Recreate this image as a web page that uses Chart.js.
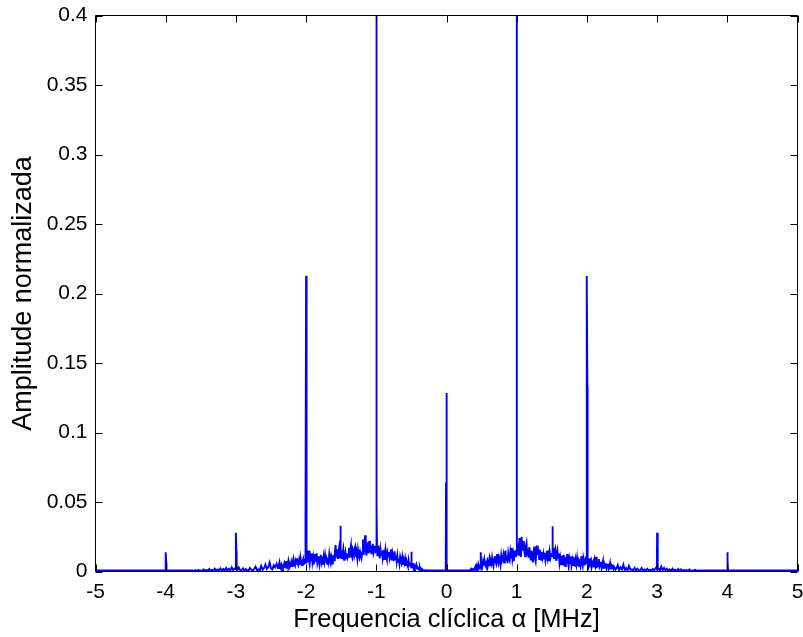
<!DOCTYPE html>
<html>
<head>
<meta charset="utf-8">
<script src="https://cdn.jsdelivr.net/npm/chart.js@4.4.1/dist/chart.umd.min.js"></script>
<style>
  html, body { margin: 0; padding: 0; background: #ffffff; }
  #wrap { width: 803px; height: 637px; }
</style>
</head>
<body>
<div id="wrap"><canvas id="scf" width="803" height="637"></canvas></div>
<script>
// Cyclic spectrum magnitude (normalized) versus cyclic frequency alpha in MHz.

// Axis ticks
const xTickValues = [-5, -4, -3, -2, -1, 0, 1, 2, 3, 4, 5];
const yTickValues = [0, 0.05, 0.1, 0.15, 0.2, 0.25, 0.3, 0.35, 0.4];
const yTickLabels = ['0', '0.05', '0.1', '0.15', '0.2', '0.25', '0.3', '0.35', '0.4'];

// Noise floor of the estimate, in units of 1e-3 (normalized amplitude).
// Outer bands sampled every 0.02 MHz, inner bands every 0.01 MHz.
const noiseUnit = 1e-3;

// alpha = -3.60 ... -2.42
const noiseOuterNeg = [
  0.4, 1.0, 0.4, 1.2, 0.5, 0.8, 0.5, 1.5, 0.5, 1.2,
  0.5, 1.8, 0.6, 1.2, 0.5, 2.0, 0.6, 1.5, 0.8, 2.2,
  0.5, 1.8, 0.8, 2.5, 0.6, 2.0, 0.8, 3.0, 1.0, 2.0,
  2.0, 1.2, 3.0, 0.8, 1.0, 2.2, 0.7, 1.8, 0.9, 0.8,
  2.5, 1.2, 0.6, 2.0, 3.5, 1.0, 1.5, 0.8, 4.0, 1.2,
  2.5, 5.0, 1.8, 3.0, 6.5, 2.2, 1.5, 4.5, 3.0, 5.5];

// alpha = -2.40 ... -0.32
const noiseInnerNeg = [
  2.5, 4.0, 6.5, 3.0, 2.0, 5.0, 3.5, 2.2, 4.5, 6.0,
  3.0, 7.5, 4.0, 5.5, 3.2, 8.0, 6.0, 3.5, 4.5, 7.0,
  4.0, 6.5, 9.0, 5.0, 4.2, 7.5, 5.5, 9.5, 6.0, 4.5,
  8.0, 5.0, 10.0, 6.5, 4.0, 7.0, 9.0, 5.5, 6.0, 8.5,
  6.0, 12.0, 7.0, 15.0, 9.0, 5.5, 11.0, 8.0, 13.0, 6.5,
  10.0, 5.0, 12.5, 7.5, 9.0, 13.0, 6.0, 8.5, 11.0, 5.5,
  9.5, 12.0, 6.0, 8.0, 5.0, 10.5, 7.0, 11.5, 6.5, 9.0,
  5.5, 10.0, 7.0, 12.5, 8.5, 6.0, 11.0, 9.0, 5.0, 12.0,
  8.0, 14.0, 19.0, 11.0, 16.0, 9.0, 13.5, 17.0, 10.0, 12.0,
  15.0, 9.0, 12.5, 16.0, 8.5, 11.0, 14.0, 9.5, 13.0, 10.0,
  12.0, 17.0, 10.0, 15.0, 18.7, 11.0, 9.5, 14.5, 12.5, 16.5,
  18.0, 10.5, 13.0, 9.0, 15.5, 12.0, 10.0, 14.0, 11.5, 9.5,
  14.0, 23.0, 12.0, 18.0, 26.0, 15.0, 11.5, 21.0, 17.0, 13.0,
  22.0, 14.0, 19.0, 12.5, 17.0, 20.0, 13.5, 16.0, 18.5, 14.5,
  15.0, 17.5, 11.0, 18.7, 13.0, 9.5, 16.0, 12.0, 14.5, 10.0,
  15.5, 9.0, 12.5, 16.0, 10.5, 8.5, 13.5, 11.0, 14.0, 9.5,
  12.0, 16.0, 8.0, 13.0, 10.0, 7.5, 14.5, 9.0, 11.5, 7.0,
  11.5, 7.0, 9.0, 5.5, 10.5, 8.0, 6.0, 10.0, 5.0, 8.5,
  6.0, 9.0, 4.0, 7.5, 5.0, 3.5, 8.0, 4.5, 6.5, 3.8,
  5.0, 3.0, 6.0, 2.5, 4.0, 2.0, 3.5, 5.0, 2.2, 3.0,
  2.5, 1.2, 3.0, 1.0, 1.8, 0.8, 1.4, 0.7, 0.9];

// alpha = 0.32 ... 2.40
const noiseInnerPos = [
  0.6, 0.9, 1.4, 0.8, 1.6, 1.0, 1.8, 1.2,
  2.0, 3.5, 1.5, 4.0, 2.5, 5.0, 2.0, 3.0, 4.5, 3.0,
  5.5, 3.5, 7.0, 4.5, 8.5, 5.0, 3.8, 6.5, 8.0, 4.0,
  6.0, 9.0, 4.5, 7.5, 5.5, 10.0, 6.5, 4.0, 8.5, 11.0,
  7.0, 5.5, 12.5, 8.0, 6.0, 10.5, 9.0, 5.0, 11.5, 7.5,
  9.0, 12.0, 6.5, 10.0, 15.0, 8.0, 11.0, 6.0, 13.0, 9.5,
  8.0, 14.0, 10.0, 17.0, 9.0, 12.5, 7.5, 15.0, 11.0, 14.5,
  16.0, 20.0, 12.0, 17.0, 24.0, 13.0, 10.5, 25.0, 15.0, 19.0,
  22.0, 14.0, 11.0, 18.0, 20.5, 12.0, 16.0, 10.0, 17.5, 13.0,
  8.0, 15.0, 10.0, 6.5, 13.0, 18.0, 9.0, 7.0, 14.0, 18.7,
  12.0, 16.5, 9.0, 15.5, 11.0, 8.5, 14.0, 10.0, 13.0, 9.5,
  13.5, 8.0, 11.0, 15.0, 9.5, 12.0, 7.5, 14.0, 10.0, 12.5,
  13.0, 11.0, 17.0, 9.0, 14.0, 16.0, 8.5, 12.0, 15.0, 10.0,
  13.0, 6.0, 9.5, 4.5, 11.5, 7.0, 5.0, 12.0, 8.0, 4.0,
  10.5, 5.5, 12.5, 7.0, 3.5, 9.0, 6.0, 11.0, 4.5, 8.0,
  4.0, 10.5, 6.0, 3.5, 8.5, 5.0, 9.5, 4.0, 7.0, 3.8,
  9.0, 5.0, 11.0, 6.5, 4.0, 10.0, 7.5, 4.5, 8.0, 6.0,
  6.0, 9.0, 4.0, 9.5, 3.0, 6.5, 8.0, 3.5, 5.5, 7.0,
  3.0, 8.0, 5.0, 10.5, 2.5, 6.0, 4.0, 9.0, 3.5, 5.0,
  7.0, 2.5, 4.5, 7.5, 2.0, 5.0, 3.0, 6.0, 2.2, 4.0,
  5.5, 2.0, 3.5, 6.0, 1.5, 4.0, 2.5, 5.0, 1.8, 3.0, 2.0];

// alpha = 2.42 ... 3.60
const noiseOuterPos = [
  2.0, 4.5, 1.0, 3.0, 1.5, 5.0, 1.0, 2.5, 0.8, 4.0, 1.2,
  1.5, 0.8, 2.5, 0.6, 2.0, 1.0, 0.8, 2.5, 0.6, 1.5,
  0.8, 2.0, 0.7, 1.2, 0.6, 1.8, 1.0, 2.5, 3.0,
  2.0, 0.8, 3.5, 0.6, 2.5, 0.8, 2.0, 0.6, 1.5, 0.5,
  2.0, 0.6, 1.2, 0.5, 1.8, 0.6, 1.5, 0.5, 1.2, 0.5,
  1.0, 0.5, 1.5, 0.5, 0.8, 0.4, 1.2, 0.4, 0.8, 0.4];

const noiseBlocks = [noiseOuterNeg, noiseInnerNeg, noiseInnerPos, noiseOuterPos];
const noiseStarts = [-3.60, -2.40, 0.32, 2.42];
const noiseSteps  = [0.02, 0.01, 0.01, 0.02];

// Quiet bands (no cyclic energy): floor level, same units as the noise
const floorLevel = 0.7;
const floorAlpha = [-5, -3.62, -0.30, 0.30, 3.62, 5];

// Cyclic features (spectral lines), normalized amplitude
const spikeAlpha = [-4, -3, -2, -1.51, -1, -0.5, 0, 0.49, 1, 1.51, 2, 3, 4];
const spikePeak  = [0.0139, 0.0279, 0.2128, 0.0330, 0.55, 0.0142, 0.1285, 0.0139, 0.55, 0.0326, 0.2126, 0.0279, 0.0139];
// Floor level at the foot of each line (units of 1e-3)
const spikeFoot  = [0.7, 1.5, 6.0, 10.0, 15.0, 3.0, 0.7, 3.0, 15.0, 11.0, 6.0, 1.5, 0.7];
// Neighbouring bin of the line, where it stands out (null where it does not)
const shoulderAlpha = [-3.993, -2.993, -2.007, null, -0.993, null, -0.007, null, null, null, 2.007, 3.007, 4.007];
const shoulderValue = [0.0067, 0.0146, 0.0327, null, 0.049, null, 0.064, null, null, null, 0.1333, 0.0146, 0.0079];

// Assemble the trace, ordered by alpha
const trace = [];
floorAlpha.forEach(a => trace.push({ x: a, y: floorLevel * noiseUnit }));
noiseBlocks.forEach((block, b) => {
  block.forEach((v, i) => {
    const a = +(noiseStarts[b] + i * noiseSteps[b]).toFixed(3);
    if (spikeAlpha.some(s => Math.abs(s - a) < 0.005)) return;
    trace.push({ x: a, y: v * noiseUnit });
  });
});
spikeAlpha.forEach((a, i) => {
  const sa = shoulderAlpha[i];
  const lo = Math.min(a, sa === null ? a : sa) - 0.004;
  const hi = Math.max(a, sa === null ? a : sa) + 0.004;
  const foot = spikeFoot[i] * noiseUnit;
  trace.push({ x: lo, y: foot });
  trace.push({ x: a, y: spikePeak[i] });
  if (sa !== null) trace.push({ x: sa, y: shoulderValue[i] });
  trace.push({ x: hi, y: foot });
});
trace.sort((p, q) => p.x - q.x);

const FONT = "'Liberation Sans', Arial, Helvetica, sans-serif";

// Boxed axes with inward tick marks
const boxedAxes = {
  id: 'boxedAxes',
  afterDatasetsDraw(chart) {
    const { ctx, chartArea: a, scales: { x, y } } = chart;
    ctx.save();
    ctx.strokeStyle = '#000000';
    ctx.lineWidth = 1;
    ctx.beginPath();
    ctx.rect(a.left, a.top, a.right - a.left, a.bottom - a.top);
    x.ticks.forEach(t => {
      const p = Math.round(x.getPixelForValue(t.value)) + 0.5;
      ctx.moveTo(p, a.bottom); ctx.lineTo(p, a.bottom - 7);
      ctx.moveTo(p, a.top); ctx.lineTo(p, a.top + 7);
    });
    y.ticks.forEach(t => {
      const p = Math.round(y.getPixelForValue(t.value)) + 0.5;
      ctx.moveTo(a.left, p); ctx.lineTo(a.left + 7, p);
      ctx.moveTo(a.right, p); ctx.lineTo(a.right - 7, p);
    });
    ctx.stroke();
    ctx.restore();
  }
};

new Chart(document.getElementById('scf'), {
  type: 'line',
  data: {
    datasets: [{
      data: trace,
      borderColor: '#0000ff',
      borderWidth: 1.9,
      pointRadius: 0,
      tension: 0,
      fill: false
    }]
  },
  options: {
    responsive: false,
    animation: false,
    devicePixelRatio: 1,
    parsing: false,
    layout: { padding: { top: 15.5, right: 5.5, bottom: 0, left: 0 } },
    plugins: { legend: { display: false }, tooltip: { enabled: false } },
    scales: {
      x: {
        type: 'linear',
        min: -5, max: 5,
        afterBuildTicks: s => { s.ticks = xTickValues.map(v => ({ value: v })); },
        afterFit: s => { s.height = 65.5; s.paddingLeft = 0; s.paddingRight = 0; },
        grid: { display: false, drawTicks: false },
        border: { display: false },
        ticks: { color: '#000', padding: 8, maxRotation: 0, autoSkip: false,
                 font: { family: FONT, size: 21 }, callback: v => String(v) },
        title: { display: true, text: 'Frequencia clíclica α [MHz]', color: '#000',
                 font: { family: FONT, size: 25.5 }, padding: { top: 0, bottom: 2 } }
      },
      y: {
        type: 'linear',
        min: 0, max: 0.4,
        afterBuildTicks: s => { s.ticks = yTickValues.map(v => ({ value: v })); },
        afterFit: s => { s.width = 95.5; s.paddingTop = 0; s.paddingBottom = 0; },
        grid: { display: false, drawTicks: false },
        border: { display: false },
        ticks: { color: '#000', padding: 8, autoSkip: false,
                 font: { family: FONT, size: 21 },
                 callback: (v, i) => yTickLabels[i] },
        title: { display: true, text: 'Amplitude normalizada', color: '#000',
                 font: { family: FONT, size: 27 }, padding: { top: 7, bottom: 0 } }
      }
    }
  },
  plugins: [boxedAxes]
});
</script>
</body>
</html>
